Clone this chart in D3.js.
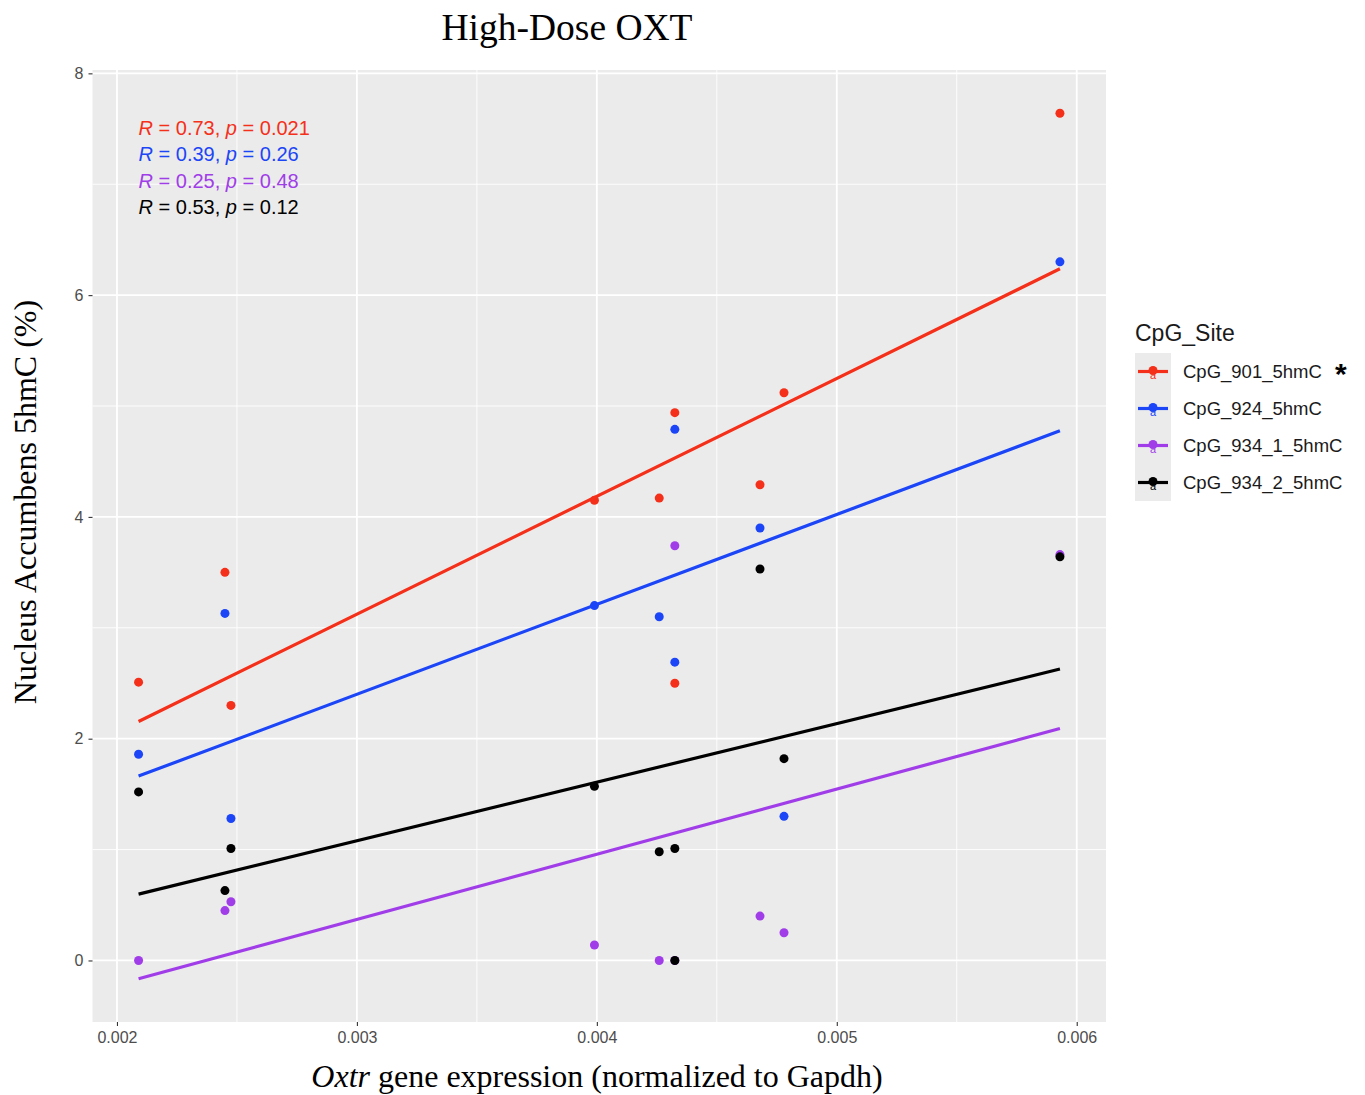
<!DOCTYPE html>
<html>
<head>
<meta charset="utf-8">
<script src="https://cdn.jsdelivr.net/npm/d3@7"></script>
<style>
  html, body { margin: 0; padding: 0; background: #ffffff; }
  svg { display: block; }
</style>
</head>
<body>
<svg id="chart" width="1365" height="1095"></svg>
<script>
// Oxtr expression per animal (normalized to Gapdh)
const oxtrExpression = [0.00209, 0.00245, 0.002475, 0.00399, 0.00426, 0.004325, 0.004325, 0.00468, 0.00478, 0.00593];

// Nucleus accumbens 5hmC (%) per CpG site, same animal order
const cpg901 = [2.51, 3.50, 2.30, 4.15, 4.17, 4.94, 2.50, 4.29, 5.12, 7.64];
const cpg924 = [1.86, 3.13, 1.28, 3.20, 3.10, 4.79, 2.69, 3.90, 1.30, 6.30];
const cpg934_1 = [0.00, 0.45, 0.53, 0.14, 0.00, 3.74, 0.00, 0.40, 0.25, 3.66];
const cpg934_2 = [1.52, 0.63, 1.01, 1.57, 0.98, 1.01, 0.00, 3.53, 1.82, 3.64];

const siteNames = ["CpG_901_5hmC", "CpG_924_5hmC", "CpG_934_1_5hmC", "CpG_934_2_5hmC"];
const siteColors = ["#F4301A", "#1B45F7", "#A03DE8", "#000000"];
const corrR = ["0.73", "0.39", "0.25", "0.53"];
const corrP = ["0.021", "0.26", "0.48", "0.12"];

const xTicks = [0.002, 0.003, 0.004, 0.005, 0.006];
const xMinor = [0.0025, 0.0035, 0.0045, 0.0055];
const yTicks = [0, 2, 4, 6, 8];
const yMinor = [1, 3, 5, 7];

const seriesValues = [cpg901, cpg924, cpg934_1, cpg934_2];

// least-squares fit for each site
function linFit(xs, ys) {
  const mx = d3.mean(xs), my = d3.mean(ys);
  let sxy = 0, sxx = 0;
  xs.forEach((x, i) => { sxy += (x - mx) * (ys[i] - my); sxx += (x - mx) * (x - mx); });
  const b = sxy / sxx;
  return { slope: b, intercept: my - b * mx };
}

const series = siteNames.map((name, i) => {
  const values = seriesValues[i];
  const fit = linFit(oxtrExpression, values);
  const x0 = d3.min(oxtrExpression), x1 = d3.max(oxtrExpression);
  return {
    name, color: siteColors[i], values,
    points: oxtrExpression.map((x, j) => ({ x, y: values[j] })),
    line: [{ x: x0, y: fit.intercept + fit.slope * x0 }, { x: x1, y: fit.intercept + fit.slope * x1 }]
  };
});

// panel geometry
const panel = { left: 92.5, right: 1106, top: 70, bottom: 1022 };

function expand(ext, f) { const r = ext[1] - ext[0]; return [ext[0] - r * f, ext[1] + r * f]; }

const xExt = d3.extent(oxtrExpression);
const allY = series.flatMap(s => s.values.concat(s.line.map(p => p.y)));
const yExt = d3.extent(allY);

const x = d3.scaleLinear().domain(expand(xExt, 0.05)).range([panel.left, panel.right]);
const y = d3.scaleLinear().domain(expand(yExt, 0.05)).range([panel.bottom, panel.top]);

const svg = d3.select("#chart");
const sans = "Arial, 'Liberation Sans', Helvetica, sans-serif";
const serif = "'Times New Roman', 'Liberation Serif', serif";

// panel background
svg.append("rect")
  .attr("x", panel.left).attr("y", panel.top)
  .attr("width", panel.right - panel.left).attr("height", panel.bottom - panel.top)
  .attr("fill", "#EBEBEB");

const grid = svg.append("g");
grid.selectAll(".vminor").data(xMinor).join("line")
  .attr("x1", d => x(d)).attr("x2", d => x(d))
  .attr("y1", panel.top).attr("y2", panel.bottom)
  .attr("stroke", "#ffffff").attr("stroke-width", 0.9);
grid.selectAll(".hminor").data(yMinor).join("line")
  .attr("y1", d => y(d)).attr("y2", d => y(d))
  .attr("x1", panel.left).attr("x2", panel.right)
  .attr("stroke", "#ffffff").attr("stroke-width", 0.9);
grid.selectAll(".vmajor").data(xTicks).join("line")
  .attr("x1", d => x(d)).attr("x2", d => x(d))
  .attr("y1", panel.top).attr("y2", panel.bottom)
  .attr("stroke", "#ffffff").attr("stroke-width", 1.8);
grid.selectAll(".hmajor").data(yTicks).join("line")
  .attr("y1", d => y(d)).attr("y2", d => y(d))
  .attr("x1", panel.left).attr("x2", panel.right)
  .attr("stroke", "#ffffff").attr("stroke-width", 1.8);

// axes
const xAxis = d3.axisBottom(x).tickValues(xTicks).tickFormat(d3.format(".3f")).tickSize(4).tickPadding(6);
const yAxis = d3.axisLeft(y).tickValues(yTicks).tickFormat(d3.format("d")).tickSize(4).tickPadding(5);

const gx = svg.append("g").attr("transform", `translate(0,${panel.bottom})`).call(xAxis);
const gy = svg.append("g").attr("transform", `translate(${panel.left},0)`).call(yAxis);
[gx, gy].forEach(g => {
  g.attr("font-size", null).attr("font-family", null);
  g.select(".domain").remove();
  g.selectAll(".tick line").attr("stroke", "#333333").attr("stroke-width", 1.1);
  g.selectAll(".tick text")
    .attr("fill", "#4D4D4D")
    .style("font-family", sans)
    .style("font-size", "16px");
});

// observations
const pts = svg.append("g");
series.forEach(s => {
  pts.append("g").selectAll("circle").data(s.points).join("circle")
    .attr("cx", d => x(d.x)).attr("cy", d => y(d.y)).attr("r", 4.5)
    .attr("fill", s.color);
});

// regression lines
const lineGen = d3.line().x(d => x(d.x)).y(d => y(d.y));
series.forEach(s => {
  svg.append("path").datum(s.line)
    .attr("d", lineGen)
    .attr("fill", "none")
    .attr("stroke", s.color)
    .attr("stroke-width", 3.2);
});

// correlation annotations
const ann = svg.append("g")
  .style("font-family", sans)
  .style("font-size", "20px");
series.forEach((s, i) => {
  const t = ann.append("text")
    .attr("x", x(0.00209))
    .attr("y", 135 + i * 26.3)
    .attr("fill", s.color);
  t.append("tspan").attr("font-style", "italic").text("R");
  t.append("tspan").text(` = ${corrR[i]}, `);
  t.append("tspan").attr("font-style", "italic").text("p");
  t.append("tspan").text(` = ${corrP[i]}`);
});

// titles
svg.append("text")
  .attr("x", 567).attr("y", 40)
  .attr("text-anchor", "middle")
  .style("font-family", serif)
  .style("font-size", "37.5px")
  .attr("fill", "#000")
  .text("High-Dose OXT");

const xl = svg.append("text")
  .attr("x", 597).attr("y", 1087)
  .attr("text-anchor", "middle")
  .style("font-family", serif)
  .style("font-size", "32px")
  .attr("fill", "#000");
xl.append("tspan").attr("font-style", "italic").text("Oxtr");
xl.append("tspan").text(" gene expression (normalized to Gapdh)");

svg.append("text")
  .attr("transform", "translate(36,502) rotate(-90)")
  .attr("text-anchor", "middle")
  .style("font-family", serif)
  .style("font-size", "32px")
  .attr("fill", "#000")
  .text("Nucleus Accumbens 5hmC (%)");

// legend
const legend = svg.append("g").attr("transform", "translate(1135,0)");
legend.append("text")
  .attr("x", 0).attr("y", 341)
  .style("font-family", sans)
  .style("font-size", "23px")
  .attr("fill", "#1a1a1a")
  .text("CpG_Site");

const keyH = 37, keyTop = 353, keyW = 36;
series.forEach((s, i) => {
  const cy = keyTop + keyH * i + keyH / 2;
  legend.append("rect")
    .attr("x", 0).attr("y", keyTop + keyH * i)
    .attr("width", keyW).attr("height", keyH)
    .attr("fill", "#EBEBEB");
  legend.append("line")
    .attr("x1", 3).attr("x2", keyW - 3)
    .attr("y1", cy).attr("y2", cy)
    .attr("stroke", s.color).attr("stroke-width", 3.2);
  legend.append("circle")
    .attr("cx", keyW / 2).attr("cy", cy - 1).attr("r", 4.5)
    .attr("fill", s.color);
  legend.append("text")
    .attr("x", keyW / 2).attr("y", cy + 7)
    .attr("text-anchor", "middle")
    .style("font-family", sans)
    .style("font-size", "11px")
    .attr("fill", s.color)
    .text("a");
  legend.append("text")
    .attr("x", 48).attr("y", cy + 6.5)
    .style("font-family", sans)
    .style("font-size", "18.5px")
    .attr("fill", "#1a1a1a")
    .text(s.name);
});

// significance marker beside the first site
legend.append("text")
  .attr("x", 200).attr("y", 384)
  .style("font-family", sans)
  .style("font-size", "30px")
  .style("font-weight", "bold")
  .attr("fill", "#000")
  .text("*");
</script>
</body>
</html>
